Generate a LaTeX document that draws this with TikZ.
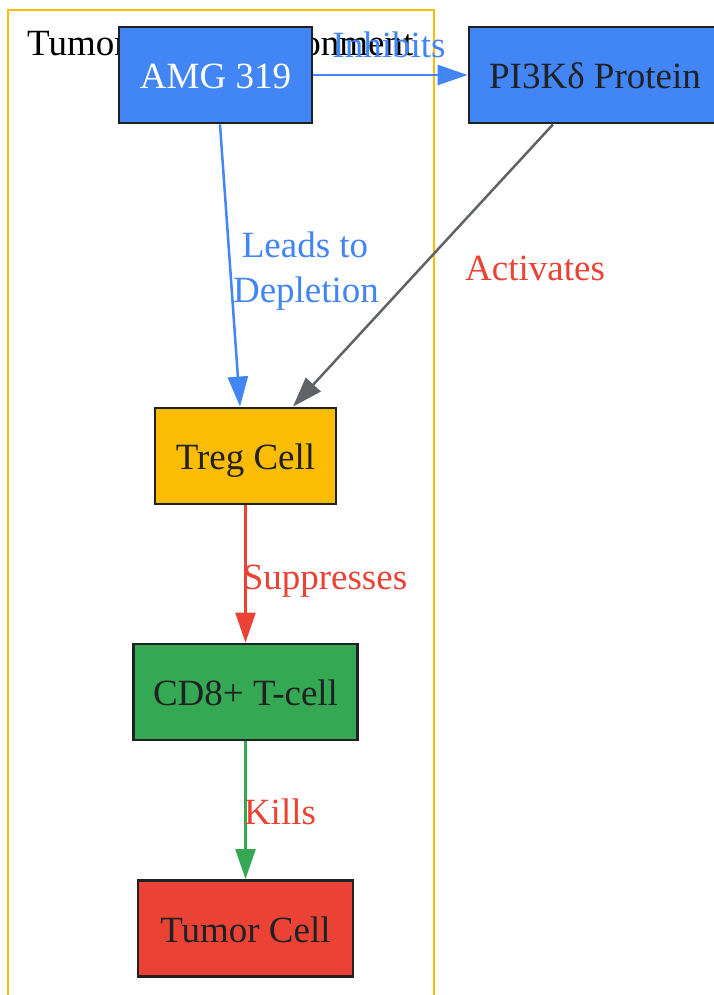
\documentclass[tikz,border=0pt]{standalone}
\usepackage{fontspec}
\setmainfont{Liberation Serif}
\usetikzlibrary{arrows.meta,calc}
\definecolor{gblue}{HTML}{4285F4}
\definecolor{gyellow}{HTML}{FBBC04}
\definecolor{ggreen}{HTML}{34A853}
\definecolor{gred}{HTML}{EA4335}
\definecolor{ggray}{HTML}{5F6368}
\definecolor{gtext}{HTML}{202124}
\tikzset{
  big/.style={font=\fontsize{37}{45}\selectfont},
  box/.style={big, draw=gtext, line width=2.8pt, rectangle, inner sep=0pt,
    text height=27pt, text depth=0pt, text=gtext},
  conn/.style={line width=2.5pt, -{Triangle[length=30pt,width=20pt]}},
  elabel/.style={big, anchor=base, inner sep=0pt}
}
\begin{document}
\begin{tikzpicture}[x=1pt,y=-1pt]
\useasboundingbox (0,0) rectangle (714,995);
% cluster
\draw[gyellow, line width=2.5pt] (8,1010) -- (8,10) -- (434,10) -- (434,1010);
\node[big, anchor=base west, inner sep=0pt, text=black] (clab) at (27,56) {Tumor Microenvironment};
% nodes
\node[box, fill=gblue, text=white, minimum width=193pt, minimum height=96pt] (amg) at (215.5,75) {AMG 319};
\node[box, fill=gblue, minimum width=252pt, minimum height=96pt] (pi3k) at (595,75) {PI3Kδ Protein};
\node[box, fill=gyellow, minimum width=181pt, minimum height=96pt] (treg) at (245.5,456) {Treg Cell};
\node[box, fill=ggreen, minimum width=224pt, minimum height=96pt] (cd8) at (245.5,692) {CD8+ T-cell};
\node[box, fill=gred, minimum width=215pt, minimum height=96pt] (tumor) at (245.5,928.5) {Tumor Cell};
% edges
\draw[conn, gblue] (amg.east) -- (pi3k.west);
\node[elabel, text=gblue] (linh) at (389,58) {Inhibits};
\draw[conn, gblue] ($(amg.south)+(4.5,0)$) -- ($(treg.north)+(-5.5,0)$);
\node[elabel, text=gblue] (llead) at (305,257) {Leads to};
\node[elabel, text=gblue] (ldep) at (306,302) {Depletion};
\draw[conn, ggray] ($(pi3k.south)+(-42,0)$) -- ($(treg.north)+(47.5,0)$);
\node[elabel, text=gred] (lact) at (535,280) {Activates};
\draw[conn, gred] (treg.south) -- (cd8.north);
\node[elabel, text=gred] (lsup) at (325,589) {Suppresses};
\draw[conn, ggreen] (cd8.south) -- (tumor.north);
\node[elabel, text=gred] (lkill) at (280,824) {Kills};
\end{tikzpicture}
\end{document}
